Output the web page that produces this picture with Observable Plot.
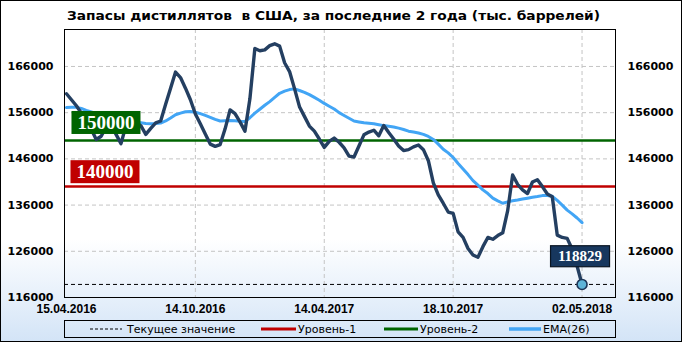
<!DOCTYPE html>
<html><head><meta charset="utf-8">
<script src="https://cdn.jsdelivr.net/npm/d3@7"></script>
<script src="https://cdn.jsdelivr.net/npm/@observablehq/plot@0.6"></script>
<style>
html,body{margin:0;padding:0;background:#fff;}
#wrap{position:relative;width:682px;height:342px;overflow:hidden;
  background:linear-gradient(to bottom,#ffffff 0%,#ffffff 70%,#d3e4f7 100%);}
#wrap svg{position:absolute;left:0;top:0;}
</style></head>
<body>
<div id="wrap"></div>
<script>
// ---- data ----
const title = "Запасы дистиллятов  в США, за последние 2 года (тыс. баррелей)";
const tickDates = ["15.04.2016","14.10.2016","14.04.2017","18.10.2017","02.05.2018"];
const tickIndex = [0, 26, 52, 78, 104];
const yTicks = [116000, 126000, 136000, 146000, 156000, 166000];
const stocks = [160100,158800,157500,155900,154300,152400,150200,150900,152900,153400,
151300,149300,153200,153700,153800,153200,151300,152600,153800,154200,
157800,161300,164800,163600,161300,158800,155700,153600,151400,149200,
148700,149100,152500,156600,155800,154000,152000,159000,169900,169400,
169600,170500,170900,170400,166800,164900,161200,157300,155200,153100,
152000,150300,148500,149800,150500,149600,148400,146600,146400,148800,
151200,151800,152200,151000,153200,151700,150300,148800,147800,148000,
148600,149000,148000,145600,140800,138200,136400,134500,134200,130200,
129000,126600,125200,124700,127000,129000,128600,129400,130000,134800,
142500,140500,139300,138500,141000,141500,140000,138400,137800,129500,
129000,128800,126500,122800,118829];
const ema26 = [157100,157150,157150,156900,156500,156150,155800,155450,155100,154800,
154500,154300,154100,154000,153900,153800,153650,153600,153650,153750,
154200,154850,155550,155900,156200,156250,156100,155800,155400,155000,
154550,154200,154250,154300,154250,154150,154100,154900,155900,156750,
157600,158400,159300,160200,160650,161000,161150,160800,160400,159900,
159300,158700,158000,157400,156800,156000,155400,154800,154200,154000,
153800,153700,153600,153400,153200,153050,152900,152650,152350,152000,
151800,151600,151300,150850,150200,149200,148100,147300,146300,145000,
143800,142600,141300,140300,139300,138500,137500,136900,136400,136700,
136950,137100,137300,137500,137700,137850,138050,138050,137900,137000,
136000,134900,134100,133200,132200];
const level1 = 140000;   // Уровень-1
const level2 = 150000;   // Уровень-2
const currentValue = 118829;
const legendItems = ["Текущее значение","Уровень-1","Уровень-2","EMA(26)"];

// ---- chart ----
const lastIdx = stocks.length - 1;
const plot = Plot.plot({
  width: 682, height: 342,
  marginLeft: 64, marginRight: 67, marginTop: 29, marginBottom: 45,
  style: {background: "transparent", fontFamily: "DejaVu Sans", fontSize: "11px", fontWeight: "bold", color: "#000", overflow: "visible"},
  x: {domain: [-0.4, 110.75], ticks: tickIndex, tickFormat: i => tickDates[tickIndex.indexOf(i)], tickSize: 0, tickPadding: 7, label: null},
  y: {domain: [116000, 174000], ticks: yTicks, tickFormat: d => String(d), tickSize: 0, tickPadding: 11, label: null},
  marks: [
    Plot.ruleY(yTicks.slice(1), {stroke: "#c4c4c4", strokeDasharray: "4,3", strokeWidth: 1}),
    Plot.ruleX(tickIndex.slice(1), {stroke: "#c4c4c4", strokeDasharray: "4,3", strokeWidth: 1}),
    Plot.ruleY([level2], {stroke: "#006400", strokeWidth: 2.5}),
    Plot.ruleY([level1], {stroke: "#c00000", strokeWidth: 2.5}),
    Plot.ruleY([currentValue], {stroke: "#000", strokeDasharray: "4,3", strokeWidth: 1}),
    Plot.line(ema26, {x: (d, i) => i, y: d => d, stroke: "#42a5f5", strokeWidth: 3}),
    Plot.line(stocks, {x: (d, i) => i, y: d => d, stroke: "#243f61", strokeWidth: 3.4, strokeLinejoin: "round"}),
    Plot.dot([lastIdx], {x: i => i, y: i => stocks[i], r: 5, fill: "#5eb4d8", stroke: "#1c3557", strokeWidth: 1.6}),
    Plot.frame({stroke: "#000", strokeWidth: 1}),
    Plot.text(yTicks, {y: d => d, text: d => String(d), frameAnchor: "right", textAnchor: "start", dx: 12,
      fontFamily: "DejaVu Sans", fontWeight: "bold", fontSize: 11, fill: "#000"}),
    Plot.text([level2], {x: 0, y: d => d, text: d => String(d), dx: 39.5, dy: -17.5, fill: "#fff",
      fontFamily: "Liberation Serif", fontWeight: "bold", fontSize: 19}),
    Plot.text([level1], {x: 0, y: d => d, text: d => String(d), dx: 38.5, dy: -14.5, fill: "#fff",
      fontFamily: "Liberation Serif", fontWeight: "bold", fontSize: 19}),
    Plot.text([lastIdx], {x: i => i, y: i => stocks[i], text: i => String(stocks[i]), dx: -2, dy: -28, fill: "#fff",
      fontFamily: "Liberation Serif", fontWeight: "bold", fontSize: 15})
  ]
});
const wrap = document.getElementById("wrap");
wrap.appendChild(plot);

// x-axis font
d3.select(plot).selectAll('g[aria-label="x-axis"], g[aria-label="x-axis tick label"]')
  .attr("font-family", "Liberation Sans").attr("font-size", 12);

// label boxes behind texts
function boxify(content, w, h, fill, stroke) {
  d3.select(plot).selectAll("text").filter(function() { return this.textContent === content; }).each(function() {
    const bb = this.getBBox();
    const cx = bb.x + bb.width / 2, cy = bb.y + bb.height / 2;
    const r = document.createElementNS("http://www.w3.org/2000/svg", "rect");
    r.setAttribute("x", cx - w / 2); r.setAttribute("y", cy - h / 2);
    r.setAttribute("width", w); r.setAttribute("height", h);
    r.setAttribute("fill", fill);
    if (stroke) { r.setAttribute("stroke", stroke); r.setAttribute("stroke-width", 1.2); }
    const t = this.getAttribute("transform");
    if (t) r.setAttribute("transform", t);
    this.parentNode.insertBefore(r, this);
  });
}
boxify(String(level2), 69, 23, "#006400");
boxify(String(level1), 69, 23, "#c00000");
boxify(String(currentValue), 59, 21, "#17375e", "#0a1522");

// overlay: title, legend, outer border
const ov = d3.select(wrap).append("svg").attr("width", 682).attr("height", 342);
ov.append("text").attr("x", 67).attr("y", 20).attr("font-family", "DejaVu Sans").attr("font-weight", "bold")
  .attr("font-size", 13).attr("textLength", 533).attr("lengthAdjust", "spacingAndGlyphs")
  .style("white-space", "pre").text(title);
const lg = ov.append("g");
lg.append("rect").attr("x", 64.5).attr("y", 320.5).attr("width", 551).attr("height", 17)
  .attr("fill", "none").attr("stroke", "#000");
const legSpec = [
  {x1: 90, x2: 122, tx: 127, stroke: "#000", w: 1, dash: "3,2"},
  {x1: 261, x2: 296, tx: 298, stroke: "#c00000", w: 3, dash: null},
  {x1: 384, x2: 418, tx: 420, stroke: "#006400", w: 3, dash: null},
  {x1: 509, x2: 541, tx: 543, stroke: "#42a5f5", w: 3.5, dash: null}
];
legSpec.forEach((s, k) => {
  const l = lg.append("line").attr("x1", s.x1).attr("x2", s.x2).attr("y1", 329).attr("y2", 329)
    .attr("stroke", s.stroke).attr("stroke-width", s.w);
  if (s.dash) l.attr("stroke-dasharray", s.dash);
  lg.append("text").attr("x", s.tx).attr("y", 333).attr("font-family", "DejaVu Sans")
    .attr("font-size", 11).attr("fill", "#000").text(legendItems[k]);
});
ov.append("rect").attr("x", 0.5).attr("y", 0.5).attr("width", 681).attr("height", 341)
  .attr("fill", "none").attr("stroke", "#000");
</script>
</body></html>
